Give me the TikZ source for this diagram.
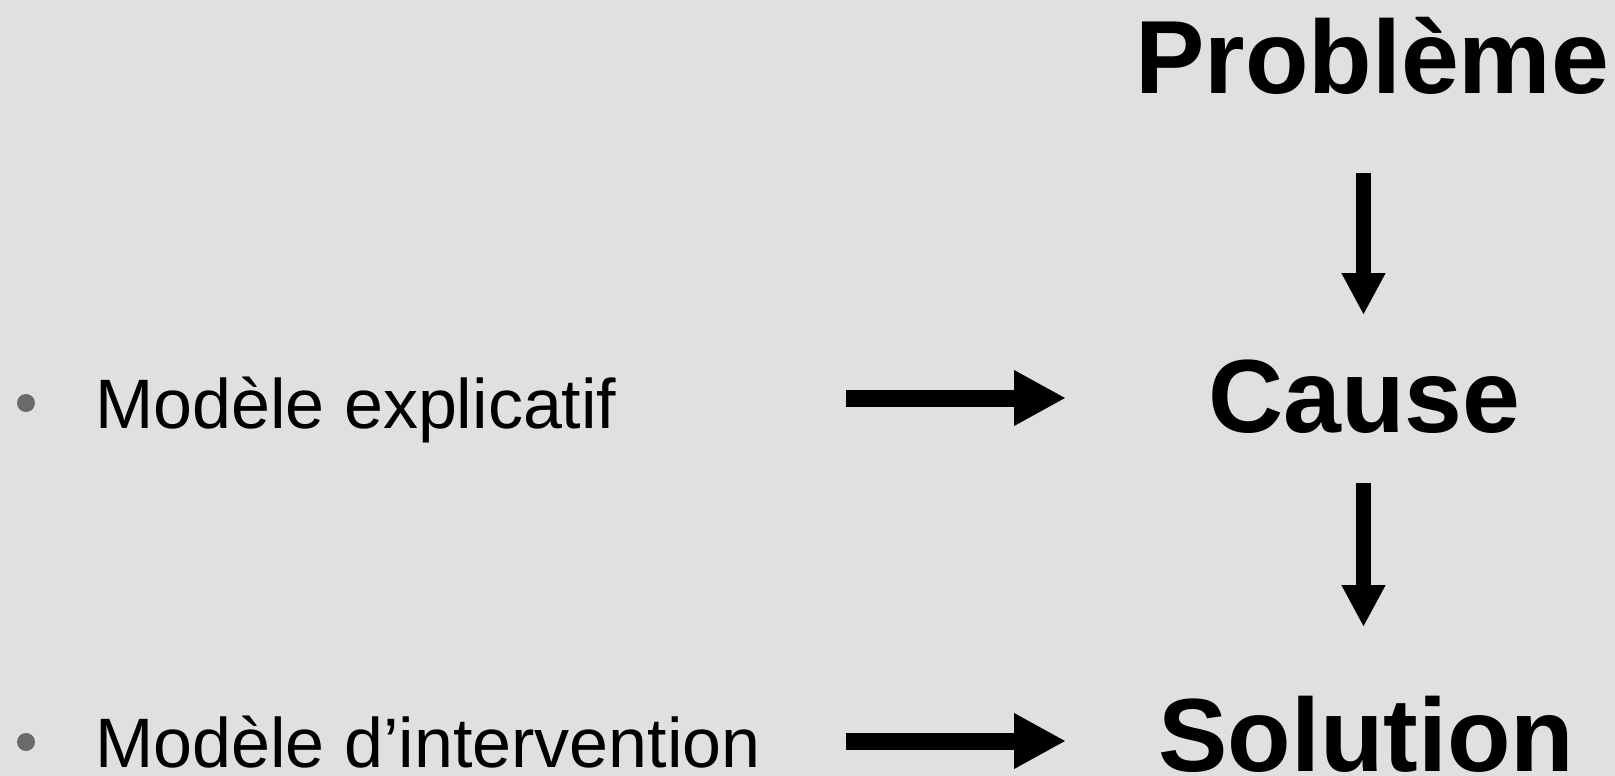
\documentclass[tikz,border=0pt]{standalone}
\usepackage{fontspec}
\setmainfont{Liberation Sans}
\usetikzlibrary{arrows.meta}
\definecolor{bg}{HTML}{E0E0E0}
\definecolor{bulletgrey}{HTML}{6A6A6A}
\tikzset{
  bigword/.style={anchor=base west, inner sep=0pt, font=\fontsize{104}{104}\bfseries\selectfont},
  itemtext/.style={anchor=base west, inner sep=0pt, font=\fontsize{70}{70}\selectfont},
  bulletdot/.style={circle, fill=bulletgrey, minimum size=18pt, inner sep=0pt},
  harrow/.style={line width=17pt, -{Triangle[length=52pt,width=52pt]}},
  varrow/.style={line width=14.5pt, -{Triangle[length=42pt,width=41pt]}}
}
\begin{document}
\begin{tikzpicture}[x=1pt,y=-1pt]
\useasboundingbox (0,0) rectangle (1615,776);
\fill[bg] (0,0) rectangle (1615,776);
% right column
\node[bigword] (prob) at (1135,93) {Problème};
\node[bigword] (cause) at (1208,432) {Cause};
\node[bigword] (sol) at (1158,771) {Solution};
% left items
\node[bulletdot] (b1) at (26,403) {};
\node[itemtext] (m1) at (95,428) {Modèle explicatif};
\node[bulletdot] (b2) at (26,742) {};
\node[itemtext] (m2) at (95,767) {Modèle d’intervention};
% arrow end points
\coordinate (h1s) at (846,398);
\coordinate (h1e) at (1066,398);
\coordinate (h2s) at (846,741);
\coordinate (h2e) at (1066,741);
\coordinate (v1s) at (1363.5,173);
\coordinate (v1e) at (1363.5,315);
\coordinate (v2s) at (1363.5,483);
\coordinate (v2e) at (1363.5,627);
\draw[harrow] (h1s) -- (h1e);
\draw[harrow] (h2s) -- (h2e);
\draw[varrow] (v1s) -- (v1e);
\draw[varrow] (v2s) -- (v2e);
\end{tikzpicture}
\end{document}
